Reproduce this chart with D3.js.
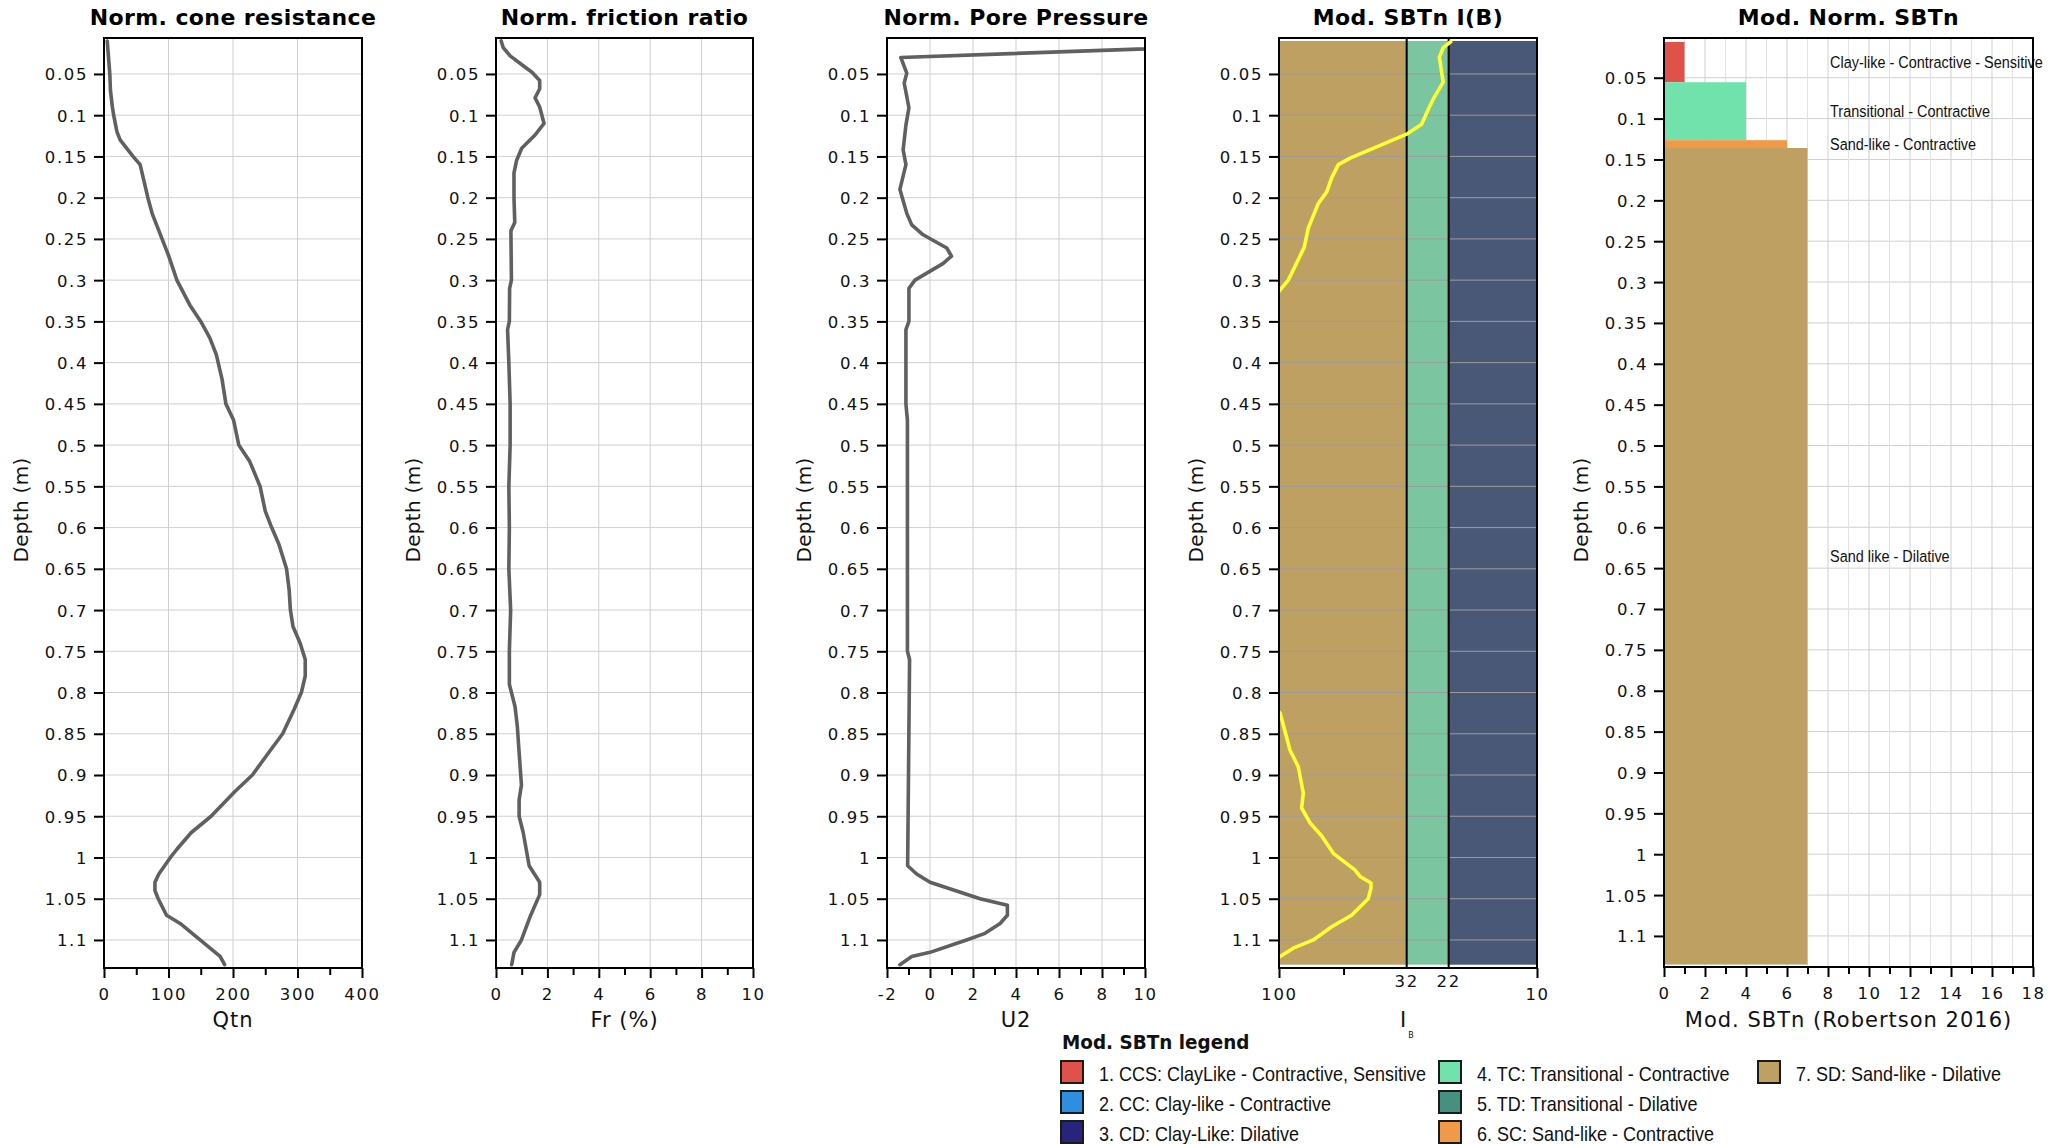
<!DOCTYPE html>
<html><head><meta charset="utf-8">
<script src="https://cdn.jsdelivr.net/npm/d3@7"></script>
<style>body{margin:0;background:#fff}</style>
</head><body><svg id="c" width="2072" height="1144"></svg>
<script>
// ---------------- DATA ----------------
const depthTicks = [0.05,0.1,0.15,0.2,0.25,0.3,0.35,0.4,0.45,0.5,0.55,0.6,0.65,0.7,0.75,0.8,0.85,0.9,0.95,1,1.05,1.1];

const qtnDepth = [0.01,0.03,0.05,0.07,0.09,0.10,0.12,0.13,0.14,0.15,0.16,0.18,0.20,0.22,0.25,0.27,0.30,0.33,0.35,0.37,0.39,0.42,0.45,0.47,0.50,0.52,0.55,0.58,0.60,0.62,0.65,0.675,0.70,0.72,0.74,0.76,0.78,0.80,0.82,0.85,0.87,0.90,0.92,0.95,0.97,0.99,1.00,1.02,1.03,1.04,1.05,1.07,1.08,1.10,1.12,1.13];
const qtnValue = [5,7,9,10,13,15,20,25,35,45,56,62,68,75,90,100,113,133,150,164,174,183,189,201,209,226,242,250,260,271,283,287,289,293,304,312,312,306,295,277,258,230,203,166,135,113,103,85,79,79,84,97,118,149,180,187];

const frDepth = [0.01,0.018,0.028,0.04,0.048,0.058,0.068,0.079,0.09,0.11,0.124,0.14,0.155,0.17,0.2,0.23,0.24,0.3,0.31,0.35,0.36,0.4,0.45,0.5,0.55,0.6,0.65,0.7,0.75,0.79,0.817,0.841,0.873,0.912,0.93,0.95,0.97,1.01,1.03,1.045,1.07,1.1,1.115,1.13];
const frValue = [0.2,0.28,0.55,1.06,1.4,1.7,1.7,1.52,1.7,1.87,1.52,1.0,0.8,0.7,0.7,0.73,0.58,0.6,0.53,0.52,0.45,0.5,0.55,0.55,0.5,0.52,0.5,0.57,0.52,0.52,0.74,0.83,0.9,0.99,0.9,0.9,1.06,1.29,1.7,1.7,1.35,0.99,0.7,0.61];

const u2Depth = [0.01,0.03,0.049,0.061,0.091,0.112,0.142,0.16,0.19,0.219,0.233,0.245,0.261,0.271,0.28,0.3,0.31,0.35,0.36,0.45,0.47,0.75,0.76,1.01,1.02,1.03,1.05,1.058,1.07,1.08,1.092,1.1,1.115,1.12,1.13];
const u2Value = [20.4,-1.36,-1.08,-1.2,-0.98,-1.12,-1.25,-1.12,-1.4,-1.08,-0.85,-0.32,0.78,1.0,0.6,-0.7,-0.98,-0.98,-1.12,-1.12,-1.05,-1.05,-0.95,-1.04,-0.62,0.0,2.33,3.6,3.6,3.26,2.56,1.7,0.0,-0.85,-1.4];

const ibDepth = [0.011,0.018,0.03,0.06,0.08,0.093,0.111,0.123,0.152,0.16,0.176,0.193,0.207,0.237,0.26,0.3,0.312,0.325,0.815,0.825,0.847,0.87,0.89,0.922,0.94,0.958,0.974,0.995,1.015,1.023,1.031,1.037,1.05,1.07,1.084,1.1,1.11,1.12,1.128];
const ibValue = [21.6,23.1,23.9,23.1,25.2,26.4,28.0,32.0,53,58.9,62.5,65.3,70.4,77.0,79.8,92.0,99.1,106,106,99,94.8,90.6,84.2,80.5,81.7,75.8,68.3,61.6,50.8,48.5,44.0,44.0,45.1,52.3,62.5,73.6,88,99,106];
const ibBounds = [100, 32, 22, 10];
const ibBandColors = ["#bfa063", "#7bc6a0", "#4a5878"];
const ibBandDepth = [0.01, 1.13];

const layerTop = [0.0063, 0.0555, 0.1264, 0.1360];
const layerBottom = [0.0555, 0.1264, 0.1360, 1.135];
const layerClass = [1, 4, 6, 7];
const layerLabels = ["Clay-like - Contractive - Sensitive", "Transitional - Contractive", "Sand-like - Contractive", "Sand like - Dilative"];

const legendCodes = [1,2,3,4,5,6,7];
const legendLabels = ["1. CCS: ClayLike - Contractive, Sensitive","2. CC: Clay-like - Contractive","3. CD: Clay-Like: Dilative","4. TC: Transitional - Contractive","5. TD: Transitional - Dilative","6. SC: Sand-like - Contractive","7. SD: Sand-like - Dilative"];
const legendColors = ["#e05149","#2e8fe0","#27247a","#72e2ad","#45917f","#f09a48","#bfa063"];

const qtnTicks=[0,100,200,300,400], qtnMinor=[50,150,250,350];
const frTicks=[0,2,4,6,8,10], frMinor=[1,3,5,7,9];
const u2Ticks=[-2,0,2,4,6,8,10], u2Minor=[-1,1,3,5,7,9];
const ibTicks=[100,10], ibMinor=[56.2], ibBoundTicks=[32,22];
const sbtTicks=[0,2,4,6,8,10,12,14,16,18], sbtMinor=[1,3,5,7,9,11,13,15,17];

// ---------------- DRAW ----------------
const svg = d3.select("#c");
const FONT = "DejaVu Sans, Verdana, sans-serif";
const TOP = 38, BOT = 968;
const lineColor = "#606060";

function panel(o){
  const g = svg.append("g");
  const x = o.x, y = o.y;
  const L = x.range()[0], R = x.range()[1];
  const T = y.range()[0], B = y.range()[1];
  const id = "clip" + o.key;
  svg.append("clipPath").attr("id", id).append("rect").attr("x", L).attr("y", T).attr("width", R-L).attr("height", B-T);
  const inner = g.append("g").attr("clip-path", `url(#${id})`);
  if (o.background) o.background(inner, x, y);
  inner.selectAll(".hg").data(depthTicks).join("line")
    .attr("x1", L).attr("x2", R).attr("y1", d=>y(d)).attr("y2", d=>y(d))
    .attr("stroke", o.hGridColor || "#d0d0d0").attr("stroke-width", 1);
  if (o.vMinorGrid) inner.selectAll(".vmg").data(o.vMinorGrid).join("line")
    .attr("y1", T).attr("y2", B).attr("x1", d=>x(d)).attr("x2", d=>x(d))
    .attr("stroke", "#e2e2e2").attr("stroke-width", 1);
  if (o.vGrid) inner.selectAll(".vg").data(o.vGrid).join("line")
    .attr("y1", T).attr("y2", B).attr("x1", d=>x(d)).attr("x2", d=>x(d))
    .attr("stroke", "#cfcfcf").attr("stroke-width", 1);
  if (o.foreground) o.foreground(inner, x, y);
  const ya = g.append("g").attr("transform", `translate(${L},0)`)
    .call(d3.axisLeft(y).tickValues(depthTicks).tickSize(10).tickPadding(6).tickFormat(d=>String(d)));
  ya.select(".domain").remove();
  ya.selectAll(".tick line").attr("stroke", "#000").attr("stroke-width", 2);
  ya.selectAll("text").attr("font-family", FONT).attr("font-size", 16.5).attr("fill", "#111")
    .attr("letter-spacing", "1.6px").attr("dy", "0.36em");
  const xa = g.append("g").attr("transform", `translate(0,${B})`)
    .call(d3.axisBottom(x).tickValues(o.xTicks).tickSize(10).tickFormat(d=>String(d)));
  xa.select(".domain").remove();
  xa.selectAll(".tick line").attr("stroke", "#000").attr("stroke-width", 2);
  xa.selectAll("text").attr("font-family", FONT).attr("font-size", 16.5).attr("fill", "#111")
    .attr("letter-spacing", "1.6px").attr("y", 26).attr("dy", "0.36em");
  if (o.xMinor) {
    const xm = g.append("g").attr("transform", `translate(0,${B})`)
      .call(d3.axisBottom(x).tickValues(o.xMinor).tickSize(7).tickFormat(""));
    xm.select(".domain").remove();
    xm.selectAll(".tick line").attr("stroke", "#000").attr("stroke-width", 2);
  }
  g.append("rect").attr("x", L).attr("y", T).attr("width", R-L).attr("height", B-T)
    .attr("fill", "none").attr("stroke", "#000").attr("stroke-width", 2);
  g.append("text").attr("x", (L+R)/2).attr("y", 17).attr("text-anchor", "middle")
    .attr("dominant-baseline", "central").attr("font-family", FONT).attr("font-weight", "bold")
    .attr("font-size", 22).attr("letter-spacing", "0.4px").text(o.title);
  g.append("text").attr("transform", `translate(${L-83},510) rotate(-90)`).attr("text-anchor", "middle")
    .attr("dominant-baseline", "central").attr("font-family", FONT).attr("font-size", 20)
    .attr("letter-spacing", "0.3px").attr("fill", "#111").text("Depth (m)");
  if (o.xTitle) g.append("text").attr("x", (L+R)/2).attr("y", 1020).attr("text-anchor", "middle")
    .attr("dominant-baseline", "central").attr("font-family", FONT).attr("font-size", 21)
    .attr("letter-spacing", "1px").attr("fill", "#111").text(o.xTitle);
  return {g, inner, x, y};
}

function curve(inner, x, y, depth, val, color){
  const pts = depth.map((d,i)=>[val[i], d]);
  inner.append("path").datum(pts)
    .attr("d", d3.line().x(p=>x(p[0])).y(p=>y(p[1])))
    .attr("fill", "none").attr("stroke", color).attr("stroke-width", 3.6)
    .attr("stroke-linejoin", "round").attr("stroke-linecap", "round");
}

const yMain = d3.scaleLinear().domain([0.0064, 1.134]).range([TOP, BOT]);

const p1 = panel({key:1, x:d3.scaleLinear().domain([0,400]).range([104,362]), y:yMain,
  xTicks:qtnTicks, xMinor:qtnMinor, vGrid:[100,200,300], title:"Norm. cone resistance", xTitle:"Qtn"});
curve(p1.inner, p1.x, p1.y, qtnDepth, qtnValue, lineColor);

const p2 = panel({key:2, x:d3.scaleLinear().domain([0,10]).range([496,753]), y:yMain,
  xTicks:frTicks, xMinor:frMinor, vGrid:[2,4,6,8], title:"Norm. friction ratio", xTitle:"Fr (%)"});
curve(p2.inner, p2.x, p2.y, frDepth, frValue, lineColor);

const p3 = panel({key:3, x:d3.scaleLinear().domain([-2,10]).range([887,1145]), y:yMain,
  xTicks:u2Ticks, xMinor:u2Minor, vGrid:[0,2,4,6,8], title:"Norm. Pore Pressure", xTitle:"U2"});
curve(p3.inner, p3.x, p3.y, u2Depth, u2Value, lineColor);

const p4 = panel({key:4, x:d3.scaleLog().domain([100,10]).range([1279,1537]), y:yMain,
  xTicks:ibTicks, xMinor:ibMinor, hGridColor:"#9c9c9c", title:"Mod. SBTn I(B)",
  background:(inner,x,y)=>{
    inner.selectAll(".band").data(ibBandColors).join("rect")
      .attr("x", (d,i)=>x(ibBounds[i])).attr("width", (d,i)=>x(ibBounds[i+1])-x(ibBounds[i]))
      .attr("y", y(ibBandDepth[0])).attr("height", y(ibBandDepth[1])-y(ibBandDepth[0]))
      .attr("fill", d=>d);
  },
  foreground:(inner,x,y)=>{
    inner.selectAll(".bl").data(ibBoundTicks).join("line")
      .attr("x1", d=>x(d)).attr("x2", d=>x(d)).attr("y1", y(ibBandDepth[0])-2).attr("y2", BOT)
      .attr("stroke", "#000").attr("stroke-width", 2);
  }});
curve(p4.inner, p4.x, p4.y, ibDepth, ibValue, "#ffff33");
p4.g.selectAll(".bt").data(ibBoundTicks).join("text")
  .attr("x", d=>p4.x(d)).attr("y", 981).attr("text-anchor", "middle").attr("dominant-baseline", "central")
  .attr("font-family", FONT).attr("font-size", 16.5).attr("letter-spacing", "1.6px").attr("fill", "#111")
  .text(d=>String(d));
p4.g.append("text").attr("x", 1403).attr("y", 1020).attr("text-anchor", "middle").attr("dominant-baseline", "central")
  .attr("font-family", FONT).attr("font-size", 21).attr("fill", "#111").text("I");
p4.g.append("text").attr("x", 1411).attr("y", 1035).attr("text-anchor", "middle").attr("dominant-baseline", "central")
  .attr("font-family", FONT).attr("font-size", 8).attr("fill", "#111").text("B");

const y5 = d3.scaleLinear().domain([0.0014, 1.138]).range([TOP, 967]);
const classColor = d3.scaleOrdinal().domain(legendCodes).range(legendColors);
const p5 = panel({key:5, x:d3.scaleLinear().domain([0,18]).range([1664,2033]), y:y5,
  xTicks:sbtTicks, xMinor:sbtMinor, vGrid:sbtTicks.slice(1,-1), vMinorGrid:sbtMinor,
  title:"Mod. Norm. SBTn", xTitle:"Mod. SBTn (Robertson 2016)",
  foreground:(inner,x,y)=>{
    inner.selectAll(".lay").data(layerClass).join("rect")
      .attr("x", x(0)).attr("width", d=>x(d)-x(0))
      .attr("y", (d,i)=>y(layerTop[i])).attr("height", (d,i)=>y(layerBottom[i])-y(layerTop[i]))
      .attr("fill", d=>classColor(d));
  }});
p5.g.selectAll(".ll").data(layerLabels).join("text")
  .attr("transform", (d,i)=>`translate(${p5.x(8.1)},${p5.y((layerTop[i]+layerBottom[i])/2)}) scale(0.85,1)`)
  .attr("dominant-baseline", "central").attr("font-family", "Liberation Sans, Arial, sans-serif")
  .attr("font-size", 17).attr("fill", "#111").text(d=>d);

const lg = svg.append("g");
lg.append("text").attr("transform", "translate(1062,1042) scale(0.92,1)").attr("dominant-baseline", "central")
  .attr("font-family", FONT).attr("font-weight", "bold").attr("font-size", 20).attr("fill", "#111").text("Mod. SBTn legend");
const colX = [1061, 1439, 1758];
const rowY = [1061, 1091, 1121];
const items = lg.selectAll(".li").data(legendCodes).join("g")
  .attr("transform", (d,i)=>`translate(${colX[Math.floor(i/3)]},${rowY[i%3]})`);
items.append("rect").attr("width", 22).attr("height", 22).attr("fill", d=>classColor(d))
  .attr("stroke", "#1a1a1a").attr("stroke-width", 2);
items.append("text").attr("transform", "translate(38,13) scale(0.9,1)").attr("dominant-baseline", "central")
  .attr("font-family", "Liberation Sans, Arial, sans-serif").attr("font-size", 20)
  .attr("fill", "#111").text((d,i)=>legendLabels[i]);
</script></body></html>
